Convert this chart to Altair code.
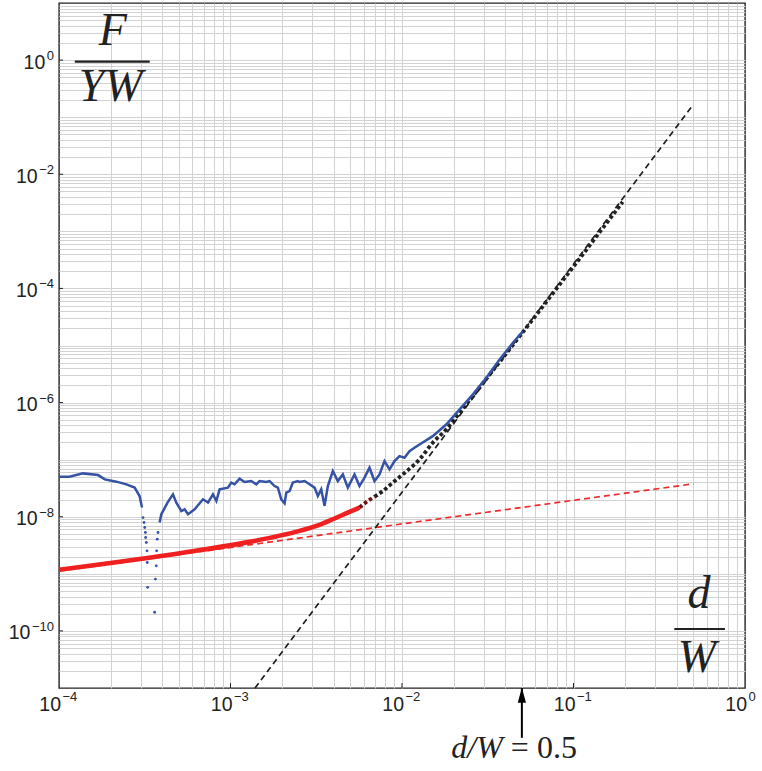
import altair as alt
import pandas as pd

# ---------------- data ----------------
# blue measured curve, first continuous part
blue_a_d = [1.00e-4, 1.15e-4, 1.38e-4, 1.69e-4, 1.85e-4, 2.16e-4, 2.47e-4, 2.76e-4, 2.95e-4, 3.05e-4]
blue_a_f = [5.04e-8, 5.04e-8, 5.75e-8, 5.37e-8, 4.52e-8, 4.12e-8, 3.70e-8, 3.24e-8, 2.31e-8, 1.45e-8]
# blue curve, isolated samples in the dip
blue_dip_d = [3.09e-4, 3.13e-4, 3.16e-4, 3.19e-4, 3.20e-4, 3.23e-4, 3.26e-4, 3.27e-4, 3.29e-4,
              3.61e-4, 3.65e-4, 3.69e-4, 3.71e-4, 3.74e-4, 3.78e-4]
blue_dip_f = [9.68e-9, 7.92e-9, 6.48e-9, 5.30e-9, 4.33e-9, 3.54e-9, 2.53e-9, 1.58e-9, 5.80e-10,
              2.12e-10, 8.09e-10, 1.38e-9, 2.53e-9, 4.05e-9, 5.30e-9]
# blue curve, second continuous part
blue_b_d = [3.86e-4, 3.95e-4, 4.09e-4, 4.30e-4, 4.62e-4, 4.83e-4, 5.17e-4, 5.40e-4, 5.65e-4, 6.18e-4,
            6.91e-4, 7.39e-4, 7.90e-4, 8.27e-4, 8.64e-4, 9.66e-4, 1.011e-3, 1.056e-3, 1.130e-3, 1.208e-3,
            1.322e-3, 1.413e-3, 1.477e-3, 1.616e-3, 1.690e-3, 1.807e-3, 1.889e-3, 1.977e-3, 2.067e-3, 2.115e-3,
            2.210e-3, 2.310e-3, 2.471e-3, 2.528e-3, 2.703e-3, 2.891e-3, 3.091e-3, 3.231e-3, 3.381e-3, 3.535e-3,
            3.695e-3, 3.951e-3, 4.225e-3, 4.519e-3, 4.831e-3, 5.286e-3, 5.652e-3, 6.046e-3, 6.464e-3, 6.915e-3,
            7.394e-3, 7.907e-3, 8.456e-3, 9.044e-3, 9.670e-3, 1.034e-2, 1.106e-2, 1.182e-2, 1.265e-2, 1.511e-2,
            1.810e-2, 2.163e-2, 2.586e-2, 3.096e-2, 3.700e-2, 4.421e-2, 5.058e-2]
blue_b_f = [7.92e-9, 1.11e-8, 1.35e-8, 1.79e-8, 2.47e-8, 1.77e-8, 1.26e-8, 1.35e-8, 1.11e-8, 1.35e-8,
            2.02e-8, 1.77e-8, 2.47e-8, 1.89e-8, 3.02e-8, 3.24e-8, 3.96e-8, 3.70e-8, 4.65e-8, 4.06e-8,
            4.22e-8, 3.70e-8, 4.22e-8, 4.06e-8, 4.22e-8, 3.45e-8, 3.24e-8, 2.02e-8, 1.72e-8, 2.65e-8,
            2.82e-8, 3.96e-8, 4.22e-8, 4.06e-8, 4.22e-8, 3.70e-8, 3.24e-8, 2.31e-8, 3.02e-8, 1.55e-8,
            3.45e-8, 6.31e-8, 4.22e-8, 5.52e-8, 3.24e-8, 5.52e-8, 3.45e-8, 4.84e-8, 7.23e-8, 4.22e-8,
            5.52e-8, 9.44e-8, 6.76e-8, 9.44e-8, 1.153e-7, 1.081e-7, 1.409e-7, 1.618e-7, 1.846e-7, 2.58e-7,
            4.13e-7, 7.55e-7, 1.380e-6, 2.70e-6, 5.64e-6, 1.104e-5, 1.759e-5]

# model curve (red markers turning black)
red_d = [1.0e-4, 5.40e-4, 1.292e-3, 2.528e-3, 3.30e-3, 3.951e-3, 4.831e-3, 5.652e-3]
red_f = [1.18e-9, 2.37e-9, 3.63e-9, 5.65e-9, 7.20e-9, 9.04e-9, 1.18e-8, 1.45e-8]
mid_d = [5.652e-3, 6.32e-3, 6.915e-3]
mid_f = [1.45e-8, 1.89e-8, 2.25e-8]
black_d = [6.915e-3, 7.73e-3, 8.84e-3, 1.011e-2, 1.182e-2, 1.265e-2, 1.511e-2, 1.810e-2, 2.163e-2,
           3.10e-2, 6.18e-2, 0.1935]
black_f = [2.25e-8, 2.82e-8, 3.96e-8, 5.52e-8, 8.26e-8, 1.01e-7, 1.98e-7, 3.38e-7, 6.61e-7,
           2.60e-6, 3.69e-5, 3.28e-3]

# asymptotes (dashed)
red_asym_d = [1.0e-4, 0.5]
red_asym_f = [1.12e-9, 3.77e-8]
black_asym_d = [1.39e-3, 0.5]
black_asym_f = [1.0e-11, 0.167]

# annotation
arrow_d = [0.05]
arrow_tail_f = [1.34e-12]
arrow_tip_f = [1.0e-11]
arrow_head_f = [7.48e-12]
arrow_text_f = [8.95e-13]

# tick labels
x_label_d = [1e-4, 1e-3, 1e-2, 1e-1, 1e0]
x_label_exp = ["−4", "−3", "−2", "−1", "0"]
y_label_f = [1e0, 1e-2, 1e-4, 1e-6, 1e-8, 1e-10]
y_label_exp = ["0", "−2", "−4", "−6", "−8", "−10"]

frac_text_d = [2.06e-4, 2.0e-4, 0.540, 0.524]
frac_text_f = [3.17, 0.344, 4.43e-10, 3.38e-11]
frac_text = ["F", "YW", "d", "W"]
frac_bar_d = [1.236e-4, 0.387]
frac_bar_d2 = [3.38e-4, 0.764]
frac_bar_f = [0.94, 1.08e-10]

# ---------------- chart ----------------
W, H = 686, 685
XDOM = [1e-4, 1.0]
YDOM = [1e-11, 10.0]
PX_PER_DEC_X = W / 4.0
PX_PER_DEC_Y = H / 12.0

# grid lines at 1..9 x 10^k (edges left to the frame)
x_grid_vals = [k * 10.0 ** e for e in range(-4, 0) for k in range(1, 10)][1:]
y_grid_vals = [k * 10.0 ** e for e in range(-11, 1) for k in range(1, 10)][1:]

xscale = alt.Scale(type="log", domain=XDOM, nice=False)
yscale = alt.Scale(type="log", domain=YDOM, nice=False)

xaxis = alt.Axis(values=x_grid_vals, labels=False, title=None, grid=True, ticks=False,
                 domain=False, gridColor="#d2d2d2", gridWidth=1)
yaxis = alt.Axis(values=y_grid_vals, labels=False, title=None, grid=True, ticks=False,
                 domain=False, gridColor="#d2d2d2", gridWidth=1)


def df(d, f, **extra):
    out = pd.DataFrame({"d": d, "f": f})
    for k, v in extra.items():
        out[k] = v
    return out


def X(field="d"):
    return alt.X(f"{field}:Q", scale=xscale, axis=xaxis)


def Y(field="f"):
    return alt.Y(f"{field}:Q", scale=yscale, axis=yaxis)


layers = []

# inward major ticks
tick_len_x = 10 ** (-4 + 4 / PX_PER_DEC_X)
tick_len_y = 10 ** (-11 + 5 / PX_PER_DEC_Y)
xt = x_label_d[1:-1]
layers.append(alt.Chart(df(xt, [YDOM[0]] * len(xt), f2=[tick_len_y] * len(xt))).mark_rule(
    color="#222", strokeWidth=1).encode(x=X(), y=Y(), y2="f2:Q"))
layers.append(alt.Chart(df([XDOM[0]] * len(y_label_f), y_label_f, d2=[tick_len_x] * len(y_label_f))).mark_rule(
    color="#222", strokeWidth=1).encode(x=X(), x2="d2:Q", y=Y()))

layers.append(alt.Chart(df(red_asym_d, red_asym_f)).mark_line(
    color="#ee2b2b", strokeWidth=1.7, strokeDash=[6, 4]).encode(x=X(), y=Y()))
layers.append(alt.Chart(df(black_asym_d, black_asym_f)).mark_line(
    color="#1e1e1e", strokeWidth=1.7, strokeDash=[6, 4]).encode(x=X(), y=Y()))

layers.append(alt.Chart(df(red_d, red_f)).mark_line(
    color="#f02020", strokeWidth=4.6, interpolate="monotone").encode(x=X(), y=Y()))
layers.append(alt.Chart(df(mid_d, mid_f)).mark_line(
    color="#6e1212", strokeWidth=3.8, strokeDash=[3.5, 2.5], interpolate="monotone").encode(x=X(), y=Y()))
layers.append(alt.Chart(df(black_d, black_f)).mark_line(
    color="#222222", strokeWidth=3.8, strokeDash=[3.5, 2.5], interpolate="monotone").encode(x=X(), y=Y()))

blue_df = pd.concat([df(blue_a_d, blue_a_f, seg="a"), df(blue_b_d, blue_b_f, seg="b")])
layers.append(alt.Chart(blue_df).mark_line(
    color="#3553a5", strokeWidth=2.5).encode(x=X(), y=Y(), detail="seg:N"))
layers.append(alt.Chart(df(blue_dip_d, blue_dip_f)).mark_circle(
    color="#3553a5", size=8, opacity=1).encode(x=X(), y=Y()))

# arrow below the axis
arrow_df = pd.DataFrame({"d": arrow_d, "f": arrow_tail_f, "f2": arrow_tip_f,
                         "fh": arrow_head_f, "ft": arrow_text_f})
layers.append(alt.Chart(arrow_df).mark_rule(color="black", strokeWidth=2).encode(
    x=X(), y=Y("f"), y2="f2:Q"))
layers.append(alt.Chart(arrow_df).mark_point(
    shape="M0,-1L-0.55,1L0.55,1Z", filled=True, color="black", opacity=1, size=225).encode(
    x=X(), y=Y("fh")))
layers.append(alt.Chart(arrow_df).mark_text(
    text="d/W", font="Liberation Serif", fontStyle="italic", fontSize=32, align="right",
    baseline="middle", dx=-19, color="#222").encode(x=X(), y=Y("ft")))
layers.append(alt.Chart(arrow_df).mark_text(
    text="= 0.5", font="Liberation Serif", fontSize=32, align="left",
    baseline="middle", dx=-11, color="#222").encode(x=X(), y=Y("ft")))

# fraction labels
layers.append(alt.Chart(pd.DataFrame({"d": frac_text_d, "f": frac_text_f, "t": frac_text})).mark_text(
    font="Liberation Serif", fontStyle="italic", fontSize=46, baseline="middle", align="center",
    color="#222").encode(x=X(), y=Y(), text="t:N"))
layers.append(alt.Chart(pd.DataFrame({"d": frac_bar_d, "d2": frac_bar_d2, "f": frac_bar_f})).mark_rule(
    color="#222", strokeWidth=2.2).encode(x=X(), x2="d2:Q", y=Y()))

# tick labels: "10" plus a raised exponent
BASE_FS, EXP_FS = 19.5, 13
xl = pd.DataFrame({"d": x_label_d, "f": [YDOM[0]] * len(x_label_d), "e": x_label_exp})
layers.append(alt.Chart(xl).mark_text(
    text="10", font="Liberation Sans", fontSize=BASE_FS, align="right", baseline="middle",
    dx=2, dy=16.5, color="#222").encode(x=X(), y=Y()))
layers.append(alt.Chart(xl).mark_text(
    font="Liberation Sans", fontSize=EXP_FS, align="left", baseline="middle",
    dx=3.5, dy=9, color="#222").encode(x=X(), y=Y(), text="e:N"))

yl = pd.DataFrame({"d": [XDOM[0]] * len(y_label_f), "f": y_label_f, "e": y_label_exp})
layers.append(alt.Chart(yl).mark_text(
    font="Liberation Sans", fontSize=EXP_FS, align="right", baseline="middle",
    dx=-5, dy=-4, color="#222").encode(x=X(), y=Y(), text="e:N"))


def exp_width(s):
    return sum(0.584 if ch == "−" else 0.556 for ch in s) * EXP_FS


for fval, e in zip(y_label_f, y_label_exp):
    layers.append(alt.Chart(df([XDOM[0]], [fval])).mark_text(
        text="10", font="Liberation Sans", fontSize=BASE_FS, align="right", baseline="middle",
        dx=-5 - exp_width(e) - 1.5, dy=2.5, color="#222").encode(x=X(), y=Y()))

chart = alt.layer(*layers).properties(
    width=W, height=H,
    padding={"left": 59, "top": 3, "right": 17, "bottom": 83},
    autosize="none",
    background="white",
).configure_view(
    stroke="#222", strokeWidth=1.4
)

chart.save("out.html", embed_options={"renderer": "svg", "actions": False})
